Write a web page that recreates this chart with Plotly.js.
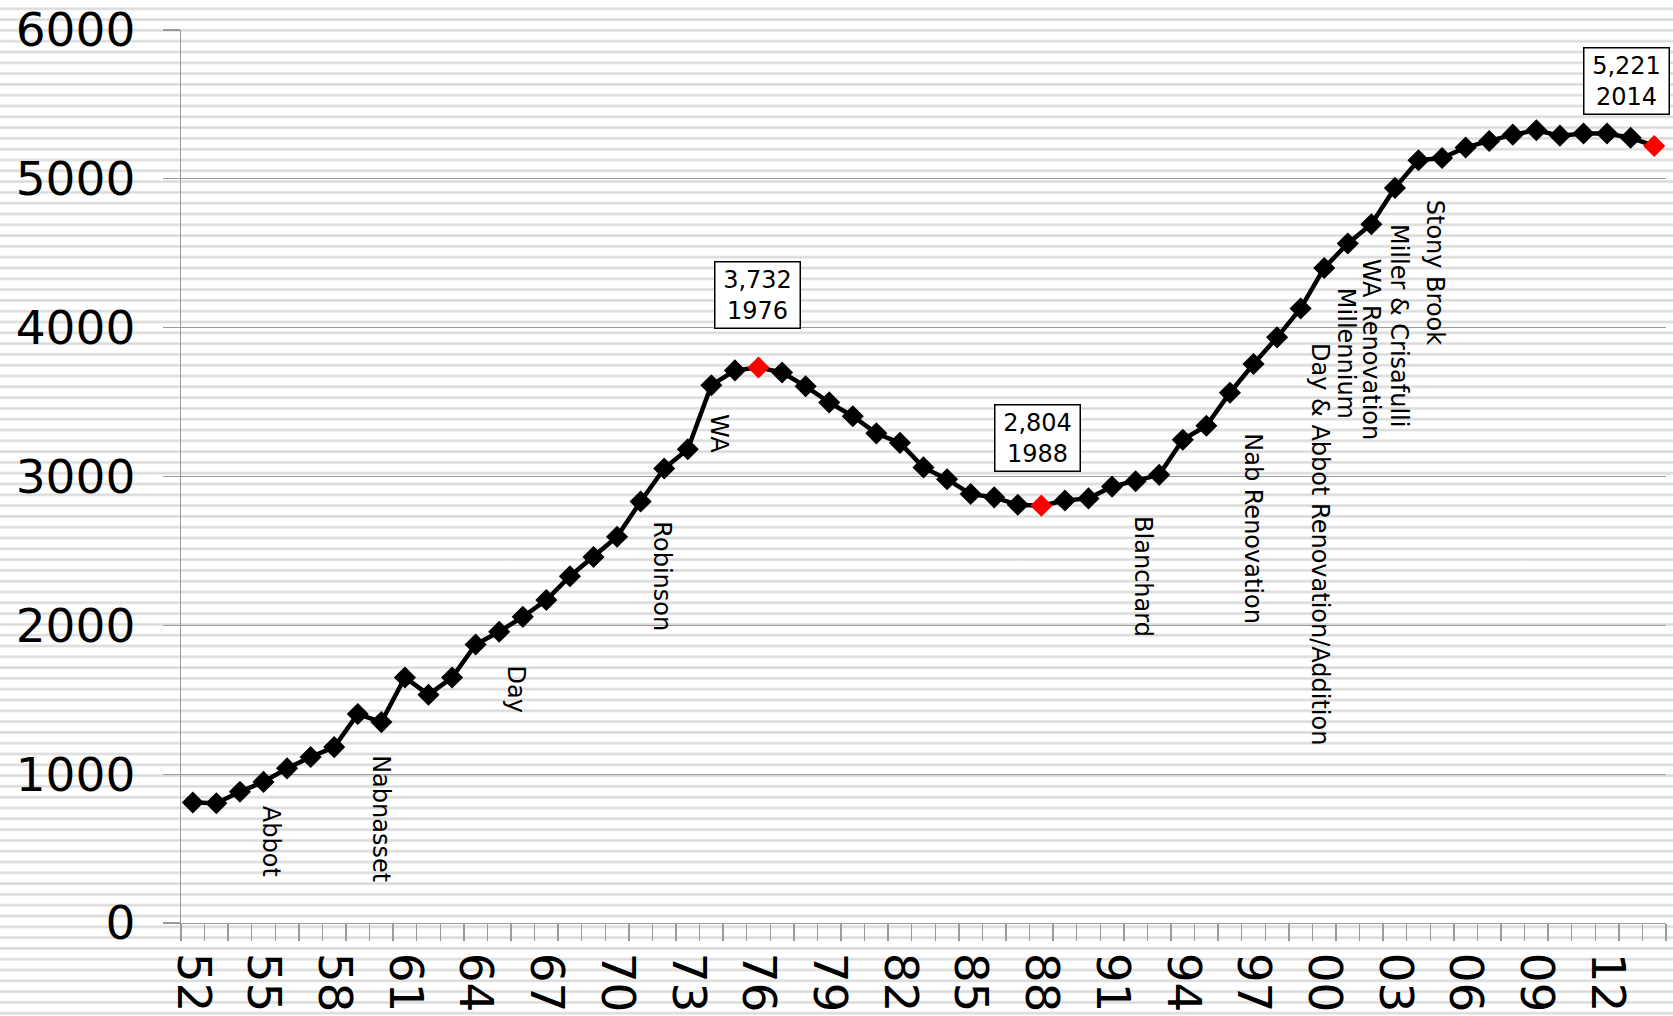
<!DOCTYPE html>
<html>
<head>
<meta charset="utf-8">
<script src="https://cdn.plot.ly/plotly-3.0.1.min.js"></script>
<style>
  html, body { margin: 0; padding: 0; }
  body {
    width: 1673px; height: 1016px; overflow: hidden;
    background-color: #ffffff;
    background-image: repeating-linear-gradient(180deg, #ffffff 0px, #ffffff 6.8px, #e4e4e4 7.8px, #dadada 8.8px, #e4e4e4 9.8px, #ffffff 10.8px);
    background-position: 0px 0px;
  }
  #chart { width: 1673px; height: 1016px; }
</style>
</head>
<body>
<div id="chart"></div>
<script>
// ---- data ----
const years = [1952,1953,1954,1955,1956,1957,1958,1959,1960,1961,1962,1963,1964,1965,1966,1967,1968,1969,1970,1971,1972,1973,1974,1975,1976,1977,1978,1979,1980,1981,1982,1983,1984,1985,1986,1987,1988,1989,1990,1991,1992,1993,1994,1995,1996,1997,1998,1999,2000,2001,2002,2003,2004,2005,2006,2007,2008,2009,2010,2011,2012,2013,2014];
const enrollment = [810,805,882,948,1039,1115,1182,1404,1350,1650,1534,1649,1871,1957,2057,2170,2330,2459,2595,2832,3054,3183,3613,3713,3732,3699,3606,3498,3405,3290,3226,3061,2982,2882,2860,2810,2804,2839,2853,2932,2968,3011,3247,3341,3563,3756,3935,4129,4401,4566,4695,4939,5125,5140,5211,5254,5297,5326,5290,5305,5305,5276,5221];
const highlightYears = [1976, 1988, 2014];
const tickYears = [1952,1955,1958,1961,1964,1967,1970,1973,1976,1979,1982,1985,1988,1991,1994,1997,2000,2003,2006,2009,2012];
const tickLabels = ["52","55","58","61","64","67","70","73","76","79","82","85","88","91","94","97","00","03","06","09","12"];
const eventNames = ["Abbot","Nabnasset","Day","Robinson","WA","Blanchard","Nab Renovation","Day & Abbot Renovation/Addition","Millennium","WA Renovation","Miller & Crisafulli","Stony Brook"];
const eventX = [1955.3,1960.0,1965.7,1971.9,1974.3,1992.3,1997.0,1999.85,2000.9,2002.0,2003.2,2004.7];
const eventY = [548,702,1570,2330,3290,2326,2649,2548,3828,3850,4014,4369];

// ---- chart ----
const FONT = "DejaVu Sans, Verdana, sans-serif";
const markerColors = years.map(y => highlightYears.includes(y) ? "#ff0000" : "#000000");

const trace = {
  type: "scatter", mode: "lines+markers",
  x: years, y: enrollment,
  line: { color: "#000000", width: 4.5 },
  marker: { symbol: "diamond", size: 17, color: markerColors, line: { width: 0 } },
  hoverinfo: "x+y"
};

const boxOffsets = { 1976: [-1, -73], 1988: [-4, -68], 2014: [-28, -65] };
const annotations = [];
highlightYears.forEach(hy => {
  const i = years.indexOf(hy);
  annotations.push({
    x: years[i], y: enrollment[i], xref: "x", yref: "y",
    text: enrollment[i].toLocaleString("en-US") + "<br>" + years[i],
    showarrow: true, arrowcolor: "rgba(0,0,0,0)", arrowwidth: 0.1, arrowhead: 0,
    ax: boxOffsets[hy][0], ay: boxOffsets[hy][1],
    width: 78,
    bgcolor: "#ffffff", bordercolor: "#000000", borderwidth: 1.5, borderpad: 3,
    font: { family: FONT, size: 24, color: "#000000" }
  });
});
eventNames.forEach((t, k) => {
  annotations.push({
    x: eventX[k], y: eventY[k], xref: "x", yref: "y",
    text: t, textangle: 90, showarrow: false,
    xanchor: "center", yanchor: "middle",
    font: { family: FONT, size: 24, color: "#000000" }
  });
});

const layout = {
  width: 1673, height: 1016,
  margin: { l: 181, r: 7, t: 30, b: 93 },
  paper_bgcolor: "rgba(0,0,0,0)", plot_bgcolor: "rgba(0,0,0,0)",
  showlegend: false,
  font: { family: FONT, color: "#000000" },
  xaxis: {
    type: "linear", range: [1951.5, 2014.5],
    tickmode: "array", tickvals: tickYears, ticktext: tickLabels,
    tickangle: 90, ticks: "", showgrid: false, zeroline: false,
    showline: true, linecolor: "#9a9a9a", linewidth: 1.3,
    tickfont: { family: FONT, size: 47, color: "#000000" },
    ticklabelstandoff: 19,
    minor: { ticks: "outside", ticklen: 17, tickcolor: "#9a9a9a", tickwidth: 1.3, tickmode: "linear", tick0: 1951.5, dtick: 1, showgrid: false }
  },
  yaxis: {
    range: [0, 6000], tickmode: "linear", tick0: 0, dtick: 1000,
    ticks: "outside", ticklen: 17, tickcolor: "#9a9a9a", tickwidth: 1.3,
    showgrid: true, gridcolor: "#9a9a9a", gridwidth: 1.3, zeroline: false,
    showline: true, linecolor: "#9a9a9a", linewidth: 1.3,
    tickfont: { family: FONT, size: 47, color: "#000000" },
    ticklabelstandoff: 18
  },
  annotations: annotations
};

Plotly.newPlot("chart", [trace], layout, { staticPlot: true, displayModeBar: false });
</script>
</body>
</html>
